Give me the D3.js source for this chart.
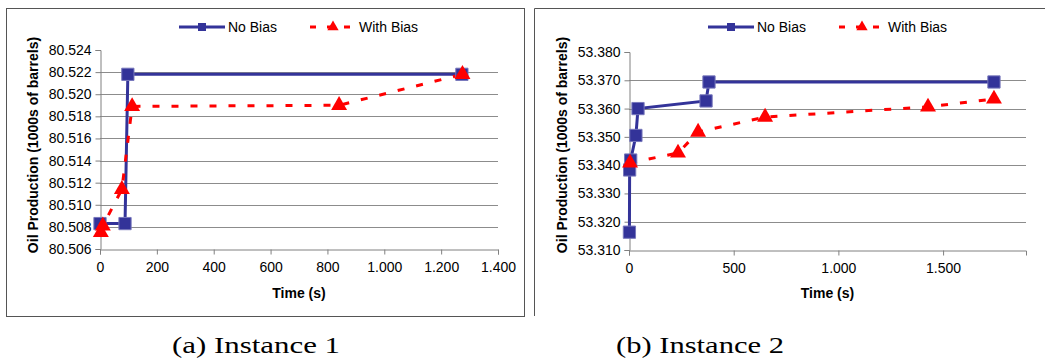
<!DOCTYPE html>
<html>
<head>
<meta charset="utf-8">
<script src="https://cdn.jsdelivr.net/npm/d3@7"></script>
<style>
  body { margin: 0; background: #fff; }
  svg { display: block; font-family: "Liberation Sans", Arial, sans-serif; }
  .caption { font-family: "Liberation Serif", "Times New Roman", serif; }
</style>
</head>
<body>
<svg id="chart" width="1045" height="358"></svg>
<script>
// Instance 1
var timeA_noBias = [0, 88, 98, 1273];
var prodA_noBias = [80.5083, 80.5083, 80.5218, 80.5218];
var timeA_bias = [3, 10, 77, 113, 841, 1275];
var prodA_bias = [80.5075, 80.5081, 80.5114, 80.5189, 80.5190, 80.5218];
var xTicksA = [0, 200, 400, 600, 800, 1000, 1200, 1400];
var xTickLabelsA = ["0", "200", "400", "600", "800", "1.000", "1.200", "1.400"];
var yTicksA = [80.506, 80.508, 80.510, 80.512, 80.514, 80.516, 80.518, 80.520, 80.522, 80.524];

// Instance 2
var timeB_noBias = [2, 3, 8, 33, 43, 368, 382, 1743];
var prodB_noBias = [53.3163, 53.3383, 53.3418, 53.3505, 53.3600, 53.3627, 53.3694, 53.3694];
var timeB_bias = [5, 234, 330, 650, 1428, 1743];
var prodB_bias = [53.3408, 53.3443, 53.3517, 53.3570, 53.3606, 53.3634];
var xTicksB = [0, 500, 1000, 1500];
var xTickLabelsB = ["0", "500", "1.000", "1.500"];
var yTicksB = [53.310, 53.320, 53.330, 53.340, 53.350, 53.360, 53.370, 53.380];

var seriesNames = ["No Bias", "With Bias"];
var captions = ["(a) Instance 1", "(b) Instance 2"];

var NAVY = "#333399", RED = "#ff0000";
var svg = d3.select("#chart");

// frames around the two excel charts
svg.append("rect").attr("x", 6.5).attr("y", 8.5).attr("width", 518).attr("height", 308)
  .attr("fill", "none").attr("stroke", "#555");
svg.append("path").attr("d", "M534.5,316 V8.5 H1045")
  .attr("fill", "none").attr("stroke", "#555");

function zip(xs, ys) {
  return xs.map(function(x, i) { return {t: x, v: ys[i]}; });
}

function panel(cfg) {
  var x = d3.scaleLinear().domain(cfg.xDomain).range(cfg.xRange);
  var y = d3.scaleLinear().domain(cfg.yDomain).range(cfg.yRange);
  var g = svg.append("g");

  // gridlines (not on the bottom axis or top tick)
  g.selectAll(".grid").data(cfg.yTicks.slice(1, -1)).enter().append("line")
    .attr("x1", cfg.xRange[0]).attr("x2", cfg.xRange[1])
    .attr("y1", function(d) { return Math.round(y(d)) + 0.5; })
    .attr("y2", function(d) { return Math.round(y(d)) + 0.5; })
    .attr("stroke", "#8c8c8c");

  var xAxis = d3.axisBottom(x).tickValues(cfg.xTicks).tickSize(5).tickPadding(8)
    .tickFormat(function(d, i) { return cfg.xLabels[i]; });
  var gx = g.append("g").attr("transform", "translate(0," + Math.round(cfg.yRange[0]) + ".5)").call(xAxis);
  var yAxis = d3.axisLeft(y).tickValues(cfg.yTicks).tickSize(5).tickPadding(4)
    .tickFormat(d3.format(".3f"));
  var gy = g.append("g").attr("transform", "translate(" + Math.round(cfg.xRange[0]) + ".5,0)").call(yAxis);
  [gx, gy].forEach(function(a) {
    a.attr("font-family", null).attr("font-size", 14);
    a.select(".domain").attr("stroke", "#808080");
    a.selectAll(".tick line").attr("stroke", "#808080");
    a.selectAll("text").attr("fill", "#000");
  });

  g.append("text").attr("x", (cfg.xRange[0] + cfg.xRange[1]) / 2).attr("y", 298)
    .attr("text-anchor", "middle").attr("font-size", 14).attr("font-weight", "bold")
    .text("Time (s)");
  g.append("text").attr("transform", "translate(" + cfg.yTitleX + ",145) rotate(-90)")
    .attr("text-anchor", "middle").attr("font-size", 14).attr("font-weight", "bold")
    .text("Oil Production (1000s of barrels)");

  var line = d3.line().x(function(d) { return x(d.t); }).y(function(d) { return y(d.v); });
  var noBias = zip(cfg.tN, cfg.vN), bias = zip(cfg.tB, cfg.vB);

  g.append("path").datum(noBias).attr("d", line).attr("fill", "none")
    .attr("stroke", NAVY).attr("stroke-width", 3);
  g.append("path").datum(bias).attr("d", line).attr("fill", "none")
    .attr("stroke", RED).attr("stroke-width", 3).attr("stroke-dasharray", "7,12");

  var sq = d3.symbol().type(d3.symbolSquare).size(150);
  var tri = d3.symbol().type(d3.symbolTriangle).size(110);
  g.selectAll(".sq").data(noBias).enter().append("path").attr("d", sq)
    .attr("transform", function(d) { return "translate(" + x(d.t) + "," + y(d.v) + ")"; })
    .attr("fill", NAVY).attr("stroke", "#7777bb").attr("stroke-width", 1);
  g.selectAll(".tri").data(bias).enter().append("path").attr("d", tri)
    .attr("transform", function(d) { return "translate(" + x(d.t) + "," + y(d.v) + ")"; })
    .attr("fill", RED);

  // legend
  var lg = g.append("g").attr("transform", "translate(" + cfg.legendX + ",27)");
  lg.append("line").attr("x1", 0).attr("x2", 46).attr("stroke", NAVY).attr("stroke-width", 3);
  lg.append("path").attr("d", d3.symbol().type(d3.symbolSquare).size(64)).attr("transform", "translate(23,0)")
    .attr("fill", NAVY);
  lg.append("text").attr("x", 49).attr("y", 5).attr("font-size", 14).text(seriesNames[0]);
  lg.append("line").attr("x1", 131).attr("x2", 174).attr("stroke", RED).attr("stroke-width", 3)
    .attr("stroke-dasharray", "6,11");
  lg.append("path").attr("d", d3.symbol().type(d3.symbolTriangle).size(55)).attr("transform", "translate(154,0)")
    .attr("fill", RED);
  lg.append("text").attr("x", 180).attr("y", 5).attr("font-size", 14).text(seriesNames[1]);

  svg.append("text").attr("class", "caption").attr("x", cfg.captionX).attr("y", 353)
    .attr("text-anchor", "middle").attr("font-size", 24)
    .attr("textLength", 168).attr("lengthAdjust", "spacingAndGlyphs")
    .text(cfg.caption);
}

panel({
  xDomain: [0, 1400], xRange: [100, 498], yDomain: [80.506, 80.524], yRange: [249, 50],
  xTicks: xTicksA, xLabels: xTickLabelsA, yTicks: yTicksA,
  tN: timeA_noBias, vN: prodA_noBias, tB: timeA_bias, vB: prodA_bias,
  yTitleX: 38, legendX: 179, captionX: 256, caption: captions[0]
});
panel({
  xDomain: [0, 1896], xRange: [629, 1026], yDomain: [53.31, 53.38], yRange: [250, 52],
  xTicks: xTicksB, xLabels: xTickLabelsB, yTicks: yTicksB,
  tN: timeB_noBias, vN: prodB_noBias, tB: timeB_bias, vB: prodB_bias,
  yTitleX: 567, legendX: 708, captionX: 700, caption: captions[1]
});
</script>
</body>
</html>
